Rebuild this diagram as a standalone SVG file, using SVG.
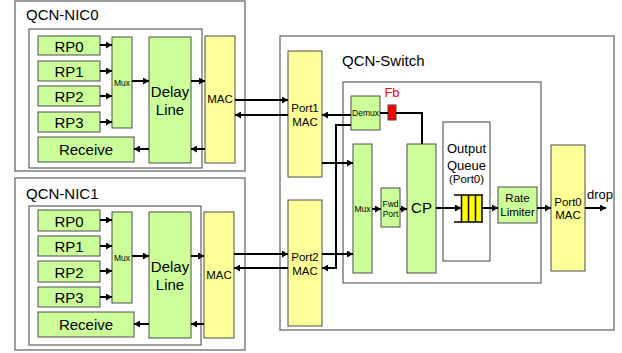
<svg xmlns="http://www.w3.org/2000/svg" width="622" height="353" viewBox="0 0 622 353">
<defs>
<style>
.outer{fill:#fff;stroke:#7f7f7f;stroke-width:1.5}
.inner{fill:#fff;stroke:#404040;stroke-width:1}
.g{fill:#ccff99;stroke:#4d4d4d;stroke-width:1}
.y{fill:#ffff99;stroke:#4d4d4d;stroke-width:1}
.t{font-family:"Liberation Sans",Arial,sans-serif;fill:#000;text-anchor:middle}
.lbl{font-family:"Liberation Sans",Arial,sans-serif;fill:#000;font-size:15px}
.big{font-size:15px}
.mid{font-size:11.5px}
.sm{font-size:8.5px}
.c{fill:none;stroke:#000;stroke-width:2}
.a{marker-end:url(#ah)}
</style>
<marker id="ah" markerUnits="userSpaceOnUse" markerWidth="7" markerHeight="7" refX="6" refY="3.5" orient="auto">
<path d="M0,0 L6,3.5 L0,7 Z" fill="#000"/>
</marker>
</defs>

<g id="nic0">
<rect class="outer" x="15" y="1" width="230" height="170"/>
<text class="lbl" x="26" y="20">QCN-NIC0</text>
<rect class="inner" x="29" y="29" width="173" height="139"/>
</g>
<g id="nic0-rp0"><rect class="g" x="38" y="36" width="62" height="19"/><text class="t big" x="69" y="52">RP0</text></g>
<g id="nic0-rp1"><rect class="g" x="38" y="61" width="62" height="20"/><text class="t big" x="69" y="77">RP1</text></g>
<g id="nic0-rp2"><rect class="g" x="38" y="86" width="62" height="20"/><text class="t big" x="69" y="102">RP2</text></g>
<g id="nic0-rp3"><rect class="g" x="38" y="112" width="62" height="20"/><text class="t big" x="69" y="128">RP3</text></g>
<g id="nic0-receive"><rect class="g" x="38" y="137" width="96" height="25"/><text class="t big" x="86" y="155">Receive</text></g>
<g id="nic0-mux"><rect class="g" x="112" y="37" width="20" height="91"/><text class="t sm" x="122" y="85.5">Mux</text></g>
<g id="nic0-delay"><rect class="g" x="149" y="37" width="42" height="126"/><text class="t big" x="170" y="97">Delay</text><text class="t big" x="170" y="115">Line</text></g>
<g id="nic0-mac"><rect class="y" x="205" y="36" width="30" height="127"/><text class="t mid" x="220" y="103">MAC</text></g>

<g id="nic1">
<rect class="outer" x="15" y="178" width="230" height="172"/>
<text class="lbl" x="26" y="199">QCN-NIC1</text>
<rect class="inner" x="29" y="206" width="172" height="139"/>
</g>
<g id="nic1-rp0"><rect class="g" x="38" y="210" width="62" height="21"/><text class="t big" x="69" y="227">RP0</text></g>
<g id="nic1-rp1"><rect class="g" x="38" y="236" width="62" height="20"/><text class="t big" x="69" y="252">RP1</text></g>
<g id="nic1-rp2"><rect class="g" x="38" y="261" width="62" height="21"/><text class="t big" x="69" y="278">RP2</text></g>
<g id="nic1-rp3"><rect class="g" x="38" y="287" width="62" height="20"/><text class="t big" x="69" y="303">RP3</text></g>
<g id="nic1-receive"><rect class="g" x="38" y="312" width="96" height="25"/><text class="t big" x="86" y="330">Receive</text></g>
<g id="nic1-mux"><rect class="g" x="112" y="212" width="20" height="91"/><text class="t sm" x="122" y="260.5">Mux</text></g>
<g id="nic1-delay"><rect class="g" x="149" y="212" width="42" height="126"/><text class="t big" x="170" y="272">Delay</text><text class="t big" x="170" y="290">Line</text></g>
<g id="nic1-mac"><rect class="y" x="204" y="212" width="30" height="126"/><text class="t mid" x="219" y="279">MAC</text></g>

<g id="switch">
<rect class="outer" x="280" y="36" width="334" height="294"/>
<text class="lbl" x="342" y="66">QCN-Switch</text>
<rect class="inner" x="343" y="82" width="198" height="201"/>
</g>
<g id="port1-mac"><rect class="y" x="288" y="51" width="34" height="126"/><text class="t mid" x="305" y="112">Port1</text><text class="t mid" x="305" y="126">MAC</text></g>
<g id="port2-mac"><rect class="y" x="288" y="200" width="34" height="126"/><text class="t mid" x="305" y="261">Port2</text><text class="t mid" x="305" y="275">MAC</text></g>
<g id="demux"><rect class="g" x="351" y="96" width="29" height="34"/><text class="t sm" x="365.5" y="116">Demux</text></g>
<g id="fb"><rect x="388" y="105" width="8" height="15" fill="#ff0000" stroke="#404040" stroke-width="1"/><text x="392" y="97" font-family="Liberation Sans, Arial, sans-serif" font-size="13" fill="#ff0000" text-anchor="middle">Fb</text></g>
<g id="sw-mux"><rect class="g" x="353" y="144" width="19" height="129"/><text class="t sm" x="362.5" y="211.5">Mux</text></g>
<g id="fwd-port"><rect class="g" x="381" y="188" width="19" height="39"/><text class="t sm" x="390.5" y="207">Fwd</text><text class="t sm" x="390.5" y="217">Port</text></g>
<g id="cp"><rect class="g" x="407" y="144" width="29" height="129"/><text class="t big" x="421.5" y="213">CP</text></g>
<g id="output-queue">
<rect class="inner" x="443" y="122" width="47" height="139"/>
<text class="t" x="466.5" y="153" font-size="13">Output</text>
<text class="t" x="466.5" y="170" font-size="13">Queue</text>
<text class="t mid" x="466.5" y="183">(Port0)</text>
<rect x="461" y="195" width="21" height="27" fill="#ffff00" stroke="none"/>
<path d="M454,195 H483 M454,222 H483 M461.5,195 V222 M468.5,195 V222 M475.5,195 V222 M482,195 V222" fill="none" stroke="#000" stroke-width="1.5"/>
</g>
<g id="rate-limiter"><rect class="g" x="498" y="187" width="39" height="36"/><text class="t mid" x="517.5" y="202">Rate</text><text class="t mid" x="517.5" y="216">Limiter</text></g>
<g id="port0-mac"><rect class="y" x="551" y="145" width="34" height="126"/><text class="t mid" x="568" y="206">Port0</text><text class="t mid" x="568" y="219">MAC</text></g>
<text x="587" y="199" font-family="Liberation Sans, Arial, sans-serif" font-size="13" fill="#000">drop</text>

<g id="connectors">
<path class="c a" d="M100,45 H112"/>
<path class="c a" d="M100,71 H112"/>
<path class="c a" d="M100,96 H112"/>
<path class="c a" d="M100,122 H112"/>
<path class="c a" d="M132,81 H149"/>
<path class="c a" d="M191,81 H205"/>
<path class="c a" d="M205,149 H191"/>
<path class="c a" d="M149,149 H134"/>
<path class="c a" d="M235,100 H288"/>
<path class="c a" d="M288,115 H235"/>

<path class="c a" d="M100,220 H112"/>
<path class="c a" d="M100,246 H112"/>
<path class="c a" d="M100,271 H112"/>
<path class="c a" d="M100,297 H112"/>
<path class="c a" d="M132,256 H149"/>
<path class="c a" d="M191,256 H204"/>
<path class="c a" d="M204,324 H191"/>
<path class="c a" d="M149,324 H134"/>
<path class="c a" d="M234,254 H288"/>
<path class="c a" d="M288,268 H234"/>

<path class="c a" d="M351,115 H322"/>
<path class="c a" d="M351,125 H336 V268 H322"/>
<path class="c a" d="M322,163 H353"/>
<path class="c a" d="M322,254 H353"/>
<path class="c a" d="M372,209 H381"/>
<path class="c a" d="M400,209 H407"/>
<path class="c a" d="M436,208 H461"/>
<path class="c a" d="M482,208 H498"/>
<path class="c a" d="M537,208 H551"/>
<path class="c a" d="M585,208 H606"/>
<path class="c" d="M380,113 H388"/>
<path class="c" d="M396,113 H422 V144"/>
</g>
</svg>
